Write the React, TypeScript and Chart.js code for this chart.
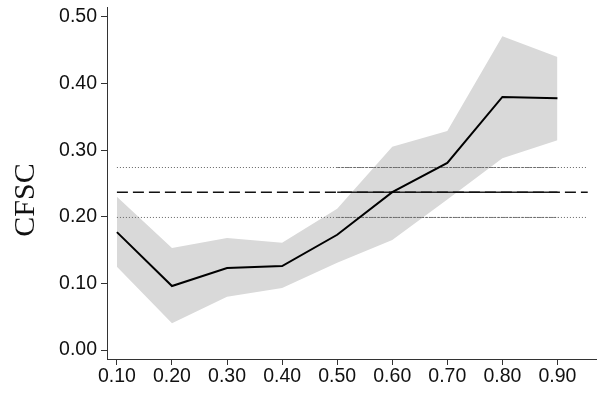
import React, { useEffect, useRef } from "react";
import { Chart, registerables } from "chart.js";
Chart.register(...registerables);

const xValues = [0.1, 0.2, 0.3, 0.4, 0.5, 0.6, 0.7, 0.8, 0.9];
const meanValues = [0.177, 0.096, 0.123, 0.126, 0.173, 0.237, 0.281, 0.380, 0.378];
const upperValues = [0.23, 0.153, 0.168, 0.161, 0.212, 0.305, 0.329, 0.471, 0.44];
const lowerValues = [0.125, 0.04, 0.08, 0.093, 0.131, 0.165, 0.226, 0.288, 0.315];
const refMean = 0.237;
const refUpper = 0.274;
const refLower = 0.199;
const refRange = [0.1, 0.955];
const refRangeOverlap = [0.5, 0.9];
const xTicks = [0.1, 0.2, 0.3, 0.4, 0.5, 0.6, 0.7, 0.8, 0.9];
const yTicks = [0, 0.1, 0.2, 0.3, 0.4, 0.5];
const yTitle = "CFSC";

const titlePlugin = {
  id: "yTitle",
  afterDraw(chart: any) {
    const ctx = chart.ctx;
    ctx.save();
    ctx.translate(26, 200);
    ctx.rotate(-Math.PI / 2);
    ctx.font = "30px 'Liberation Serif'";
    ctx.fillStyle = "#111";
    ctx.textAlign = "center";
    ctx.textBaseline = "middle";
    ctx.fillText(yTitle, 0, 0);
    ctx.restore();
  },
};

export default function App() {
  const ref = useRef<HTMLCanvasElement>(null);
  useEffect(() => {
    document.body.style.margin = "0";
    const pts = (ys: number[]) => xValues.map((x, i) => ({ x, y: ys[i] }));
    const hline = (y: number, r: number[]) => [{ x: r[0], y }, { x: r[1], y }];
    const chart = new Chart(ref.current!, {
      type: "line",
      plugins: [titlePlugin],
      data: {
        datasets: [
          { data: pts(upperValues), borderWidth: 0, pointRadius: 0, backgroundColor: "#d9d9d9", fill: "+1", order: 5 },
          { data: pts(lowerValues), borderWidth: 0, pointRadius: 0, backgroundColor: "#d9d9d9", fill: false, order: 5 },
          { data: hline(refUpper, refRange), borderColor: "#666", borderWidth: 1, borderDash: [1, 2], pointRadius: 0, fill: false, order: 3 },
          { data: hline(refLower, refRange), borderColor: "#666", borderWidth: 1, borderDash: [1, 2], pointRadius: 0, fill: false, order: 3 },
          { data: hline(refUpper, refRangeOverlap), borderColor: "#777", borderWidth: 1, borderDash: [3, 1], pointRadius: 0, fill: false, order: 3 },
          { data: hline(refLower, refRangeOverlap), borderColor: "#777", borderWidth: 1, borderDash: [3, 1], pointRadius: 0, fill: false, order: 3 },
          { data: hline(refMean, refRange), borderColor: "#111", borderWidth: 1.5, borderDash: [11, 5], pointRadius: 0, fill: false, order: 2 },
          { data: hline(refMean, refRangeOverlap), borderColor: "#222", borderWidth: 1.5, pointRadius: 0, fill: false, order: 2 },
          { data: pts(meanValues), borderColor: "#000", borderWidth: 2, pointRadius: 0, fill: false, order: 1 },
        ],
      },
      options: {
        animation: false,
        responsive: false,
        maintainAspectRatio: false,
        layout: { padding: { top: 7, right: 2, left: 0, bottom: 0 } },
        plugins: { legend: { display: false }, tooltip: { enabled: false } },
        scales: {
          x: {
            type: "linear",
            min: 0.082,
            max: 0.97,
            afterBuildTicks: (s: any) => { s.ticks = xTicks.map((v) => ({ value: v })); },
            afterFit: (s: any) => { s.height = 35; s.paddingLeft = 0; s.paddingRight = 0; },
            ticks: {
              callback: (v: any) => Number(v).toFixed(2),
              font: { family: "Liberation Sans", size: 19.5 },
              color: "#111",
              padding: 0,
              maxRotation: 0,
              autoSkip: false,
            },
            grid: { display: true, drawOnChartArea: false, drawTicks: true, tickLength: 6, color: "#333" },
            border: { display: true, color: "#333", width: 1 },
          },
          y: {
            type: "linear",
            min: -0.0135,
            max: 0.515,
            afterBuildTicks: (s: any) => { s.ticks = yTicks.map((v) => ({ value: v })); },
            afterFit: (s: any) => { s.width = 107; s.paddingTop = 0; s.paddingBottom = 0; },
            ticks: {
              callback: (v: any) => Number(v).toFixed(2),
              font: { family: "Liberation Sans", size: 19.5 },
              color: "#111",
              padding: 4,
              autoSkip: false,
            },
            grid: { display: true, drawOnChartArea: false, drawTicks: true, tickLength: 6, color: "#333" },
            border: { display: true, color: "#333", width: 1 },
          },
        },
      },
    });
    return () => chart.destroy();
  }, []);
  return <canvas ref={ref} width={598} height={394} style={{ display: "block" }} />;
}
